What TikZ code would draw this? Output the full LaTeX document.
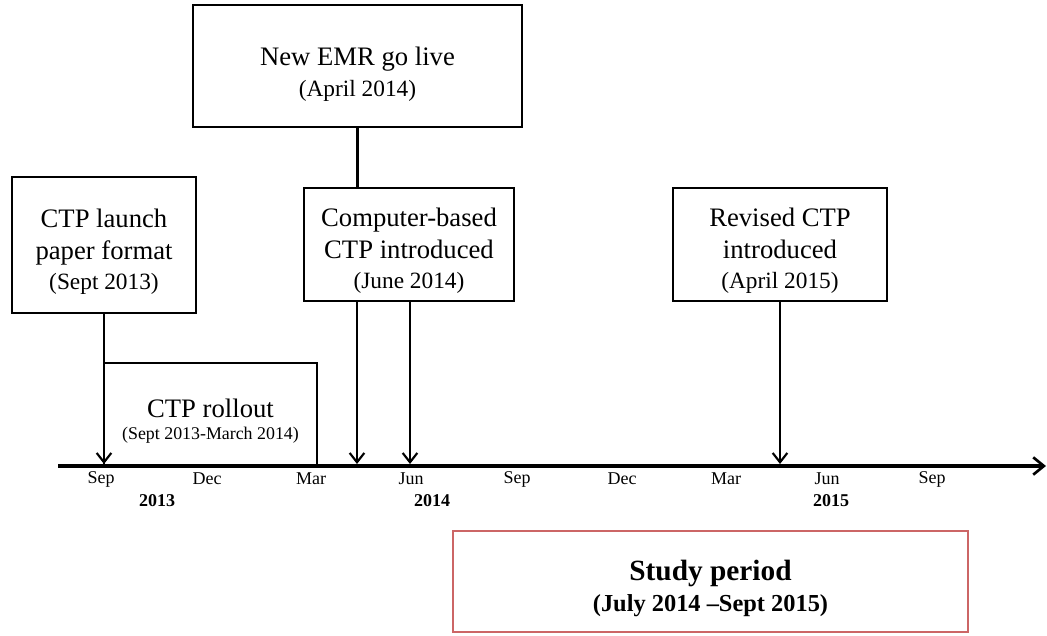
\documentclass[tikz,border=0pt]{standalone}
\usepackage{fontspec}
\setmainfont{Liberation Serif}
\usetikzlibrary{arrows.meta}
\definecolor{studyred}{RGB}{204,102,102}
\newcommand{\bigtx}{\fontsize{20}{24}\selectfont}
\newcommand{\partx}{\fontsize{17.5}{22}\selectfont}
\newcommand{\smalltx}{\fontsize{13.4}{16}\selectfont}
\newcommand{\ticktx}{\fontsize{13.5}{16}\selectfont}
\begin{document}
\begin{tikzpicture}[x=0.75pt,y=-0.75pt,
  evbox/.style={draw=black,line width=1.6pt,rectangle,inner sep=0pt},
  evtext/.style={align=center,inner sep=0pt,font=\bigtx},
  conn/.style={line width=2pt},
  arr/.style={line width=2pt,-{Straight Barb[length=7pt,width=11pt,line width=1.6pt]}},
  ticklab/.style={font=\ticktx,inner sep=0pt},
  yearlab/.style={font=\ticktx\bfseries,inner sep=0pt}]
\useasboundingbox (0,0) rectangle (1047,636);
% timeline
\coordinate (tl0) at (58,466);
\coordinate (tl1) at (1046,466);
\draw[line width=3pt,-{Straight Barb[length=8pt,width=13pt,line width=2pt]}] (tl0) -- (tl1);
% coordinates on the timeline
\coordinate (tSep13) at (104,464);
\coordinate (tApr14) at (357,464);
\coordinate (tJun14) at (410,464);
\coordinate (tApr15) at (780,464);
% boxes
\node[evbox,minimum width=329*0.75pt,minimum height=122*0.75pt] (emr) at (357.5,66) {};
\node[evtext] (emrT) at ([yshift=-6.4pt]emr.center)
  {New EMR go live\\[-1pt]\partx (April 2014)};
\node[evbox,minimum width=184*0.75pt,minimum height=136*0.75pt] (launch) at (104,245) {};
\node[evtext] (launchT) at ([yshift=-5.2pt]launch.center)
  {CTP launch\\paper format\\[-1.5pt]\partx (Sept 2013)};
\node[evbox,minimum width=210*0.75pt,minimum height=113*0.75pt] (cb) at (409,244.5) {};
\node[evtext] (cbT) at ([yshift=-5pt]cb.center)
  {Computer-based\\CTP introduced\\[-1.5pt]\partx (June 2014)};
\node[evbox,minimum width=214*0.75pt,minimum height=113*0.75pt] (rev) at (780,244.5) {};
\node[evtext] (revT) at ([yshift=-5pt]rev.center)
  {Revised CTP\\introduced\\[-1.5pt]\partx (April 2015)};
\node[evbox,minimum width=213*0.75pt,minimum height=103*0.75pt] (roll) at (210.5,414.5) {};
\node[evtext] (rollT) at ([yshift=-5pt]roll.center)
  {CTP rollout\\[-8pt]\smalltx (Sept 2013-March 2014)};
\node[draw=studyred,line width=2.2pt,rectangle,inner sep=0pt,
  minimum width=515*0.75pt,minimum height=101*0.75pt] (study) at (710.5,581.5) {};
\node[align=center,inner sep=0pt,font=\fontsize{22}{25}\selectfont\bfseries] (studyT)
  at ([yshift=-5pt]study.center)
  {Study period\\[-2pt]\fontsize{18.3}{22}\selectfont (July 2014 --Sept 2015)};
% connectors
\draw[conn] (emr.south) -- (emr.south |- cb.north);
\draw[arr] (launch.south) -- (tSep13);
\draw[arr] (cb.south -| tApr14) -- (tApr14);
\draw[arr] (cb.south -| tJun14) -- (tJun14);
\draw[arr] (rev.south) -- (tApr15);
% tick labels
\node[ticklab] (l1) at (101,479) {Sep};
\node[ticklab] (l2) at (207,479) {Dec};
\node[ticklab] (l3) at (311,479) {Mar};
\node[ticklab] (l4) at (411,479) {Jun};
\node[ticklab] (l5) at (517,479) {Sep};
\node[ticklab] (l6) at (622,479) {Dec};
\node[ticklab] (l7) at (726,479) {Mar};
\node[ticklab] (l8) at (827,479) {Jun};
\node[ticklab] (l9) at (932,479) {Sep};
\node[yearlab] (y1) at (157,501) {2013};
\node[yearlab] (y2) at (432,501) {2014};
\node[yearlab] (y3) at (831,501) {2015};
\end{tikzpicture}
\end{document}
